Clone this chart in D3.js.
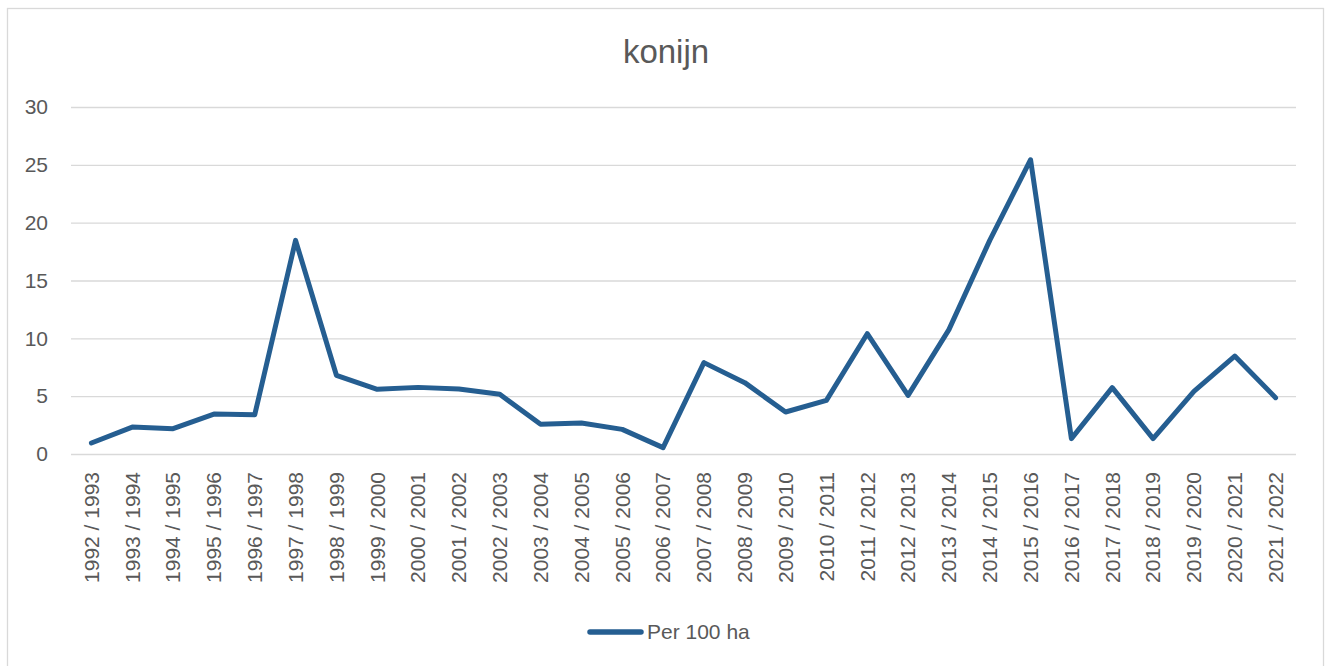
<!DOCTYPE html>
<html>
<head>
<meta charset="utf-8">
<script src="https://cdn.jsdelivr.net/npm/d3@7"></script>
<style>
  html, body { margin: 0; padding: 0; background: #fff; }
  svg { display: block; }
  text { font-family: "Liberation Sans", Arial, sans-serif; fill: #595959; }
</style>
</head>
<body>
<svg id="chart" width="1330" height="666"></svg>
<script>
const categories = ["1992 / 1993","1993 / 1994","1994 / 1995","1995 / 1996","1996 / 1997","1997 / 1998","1998 / 1999","1999 / 2000","2000 / 2001","2001 / 2002","2002 / 2003","2003 / 2004","2004 / 2005","2005 / 2006","2006 / 2007","2007 / 2008","2008 / 2009","2009 / 2010","2010 / 2011","2011 / 2012","2012 / 2013","2013 / 2014","2014 / 2015","2015 / 2016","2016 / 2017","2017 / 2018","2018 / 2019","2019 / 2020","2020 / 2021","2021 / 2022"];
const per100ha = [0.95, 2.33, 2.19, 3.45, 3.4, 18.47, 6.8, 5.59, 5.76, 5.62, 5.16, 2.57, 2.68, 2.13, 0.55, 7.9, 6.17, 3.63, 4.64, 10.4, 5.07, 10.75, 18.47, 25.44, 1.33, 5.74, 1.33, 5.42, 8.47, 4.87];
const yTicks = [0, 5, 10, 15, 20, 25, 30];
const title = "konijn";
const seriesName = "Per 100 ha";

const svg = d3.select("#chart");
const plot = { left: 71, right: 1296, top: 107, bottom: 454 };
const lineColor = "#255e91";
const fontFam = "'Liberation Sans', Arial, sans-serif";

// outer chart border
svg.append("rect")
  .attr("x", 7.5).attr("y", 8.5)
  .attr("width", 1316).attr("height", 670)
  .attr("fill", "none").attr("stroke", "#d9d9d9").attr("stroke-width", 1.3);

const x = d3.scaleBand().domain(categories).range([plot.left, plot.right]).padding(0);
const y = d3.scaleLinear().domain([0, 30]).range([plot.bottom, plot.top]);

// y axis with gridlines
const yAxis = svg.append("g")
  .attr("transform", `translate(${plot.left},0)`)
  .call(d3.axisLeft(y).tickValues(yTicks).tickSizeInner(-(plot.right - plot.left)).tickSizeOuter(0).tickPadding(23));
yAxis.select(".domain").remove();
yAxis.selectAll(".tick line").attr("stroke", "#d9d9d9").attr("stroke-width", 1.3);
yAxis.selectAll(".tick text").attr("font-size", 21).attr("fill", "#595959")
  .style("font-family", fontFam);

// x axis labels
const xAxis = svg.append("g")
  .attr("transform", `translate(0,${plot.bottom})`)
  .call(d3.axisBottom(x).tickSize(0).tickPadding(0));
xAxis.select(".domain").remove();
xAxis.selectAll(".tick text")
  .attr("font-size", 21).attr("fill", "#595959")
  .style("font-family", fontFam)
  .attr("text-anchor", "end")
  .attr("dy", "0.35em")
  .attr("x", -18).attr("y", 0)
  .attr("transform", "rotate(-90)");

// line
const line = d3.line()
  .x((d, i) => x(categories[i]) + x.bandwidth() / 2)
  .y(d => y(d));
svg.append("path")
  .datum(per100ha)
  .attr("d", line)
  .attr("fill", "none")
  .attr("stroke", lineColor)
  .attr("stroke-width", 5)
  .attr("stroke-linejoin", "round")
  .attr("stroke-linecap", "round");

// title
svg.append("text")
  .attr("x", 666).attr("y", 63)
  .attr("text-anchor", "middle")
  .attr("font-size", 33)
  .text(title);

// legend
svg.append("line")
  .attr("x1", 590).attr("x2", 641).attr("y1", 632).attr("y2", 632)
  .attr("stroke", lineColor).attr("stroke-width", 5.5).attr("stroke-linecap", "round");
svg.append("text")
  .attr("x", 647).attr("y", 639)
  .attr("font-size", 21)
  .text(seriesName);
</script>
</body>
</html>
